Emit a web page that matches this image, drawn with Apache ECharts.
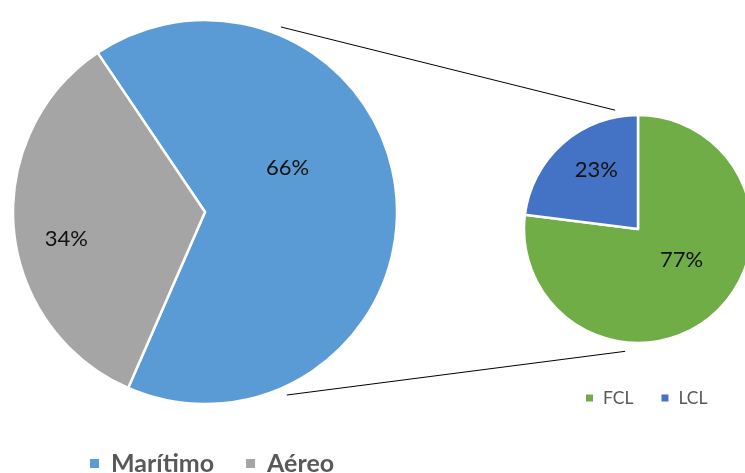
<!DOCTYPE html>
<html><head><meta charset="utf-8">
<script src="https://cdn.jsdelivr.net/npm/echarts@6/dist/echarts.min.js"></script>
<style>html,body{margin:0;padding:0;background:#fff}#c{width:745px;height:473px}</style>
</head><body><div id="c"></div>
<script>
// Data
const mainCategories = ['Marítimo', 'Aéreo'];
const mainValues = [66, 34];
const subCategories = ['FCL', 'LCL'];
const subValues = [77, 23];

// Layout (not data)
const BIG = {cx: 205, cy: 212, r: 192, start: 124};
const SMALL = {cx: 638, cy: 229, r: 114, start: 90};
const mainLabelShift = [[-16, -35], [-40, 18]];
const subLabelShift = [[4, -14], [-2, -14]];
const mainColors = ['#5B9BD5', '#A5A5A5'];
const subColors = ['#70AD47', '#4472C4'];

function pt(c, rr, deg) { // deg clockwise from top
  const a = deg * Math.PI / 180;
  return [c.cx + rr * Math.sin(a), c.cy - rr * Math.cos(a)];
}
const t1 = pt(BIG, 200, 22.3), t2 = pt(SMALL, 121, -10.9);
const b1 = pt(BIG, 200.5, 155.9), b2 = pt(SMALL, 123, 186);

const chart = echarts.init(document.getElementById('c'), null, {renderer: 'canvas'});
const font = 'Lato, Carlito, Calibri, sans-serif';
chart.setOption({
  animation: false,
  color: mainColors.concat(subColors),
  legend: [
    {data: mainCategories, left: 88, top: 451, padding: 0, icon: 'rect', itemWidth: 11, itemHeight: 11, itemGap: 30,
     textStyle: {fontFamily: font, fontWeight: 'bold', fontSize: 25, color: '#595959', padding: [0, 0, 0, 6]}},
    {data: subCategories, left: 584, top: 389, padding: 0, icon: 'rect', itemWidth: 9, itemHeight: 9, itemGap: 26,
     textStyle: {fontFamily: font, fontSize: 17.5, color: '#595959', padding: [0, 0, 0, 4]}}
  ],
  graphic: [
    {type: 'line', shape: {x1: t1[0], y1: t1[1], x2: t2[0], y2: t2[1]}, style: {stroke: '#000', lineWidth: 1}},
    {type: 'line', shape: {x1: b1[0], y1: b1[1], x2: b2[0], y2: b2[1]}, style: {stroke: '#000', lineWidth: 1}}
  ],
  series: [
    {type: 'pie', center: [BIG.cx, BIG.cy], radius: BIG.r, startAngle: BIG.start, clockwise: true,
     itemStyle: {borderColor: '#fff', borderWidth: 2.5},
     label: {position: 'inside', formatter: '{c}%', fontFamily: font, fontSize: 22, color: '#111'},
     labelLayout: p => ({dx: mainLabelShift[p.dataIndex][0], dy: mainLabelShift[p.dataIndex][1]}),
     emphasis: {disabled: true},
     data: mainCategories.map((n, i) => ({name: n, value: mainValues[i], itemStyle: {color: mainColors[i]}}))},
    {type: 'pie', center: [SMALL.cx, SMALL.cy], radius: SMALL.r, startAngle: SMALL.start, clockwise: true,
     itemStyle: {borderColor: '#fff', borderWidth: 2.5},
     label: {position: 'inside', formatter: '{c}%', fontFamily: font, fontSize: 22, color: '#111'},
     labelLayout: p => ({dx: subLabelShift[p.dataIndex][0], dy: subLabelShift[p.dataIndex][1]}),
     emphasis: {disabled: true},
     data: subCategories.map((n, i) => ({name: n, value: subValues[i], itemStyle: {color: subColors[i]}}))}
  ]
});
</script></body></html>
